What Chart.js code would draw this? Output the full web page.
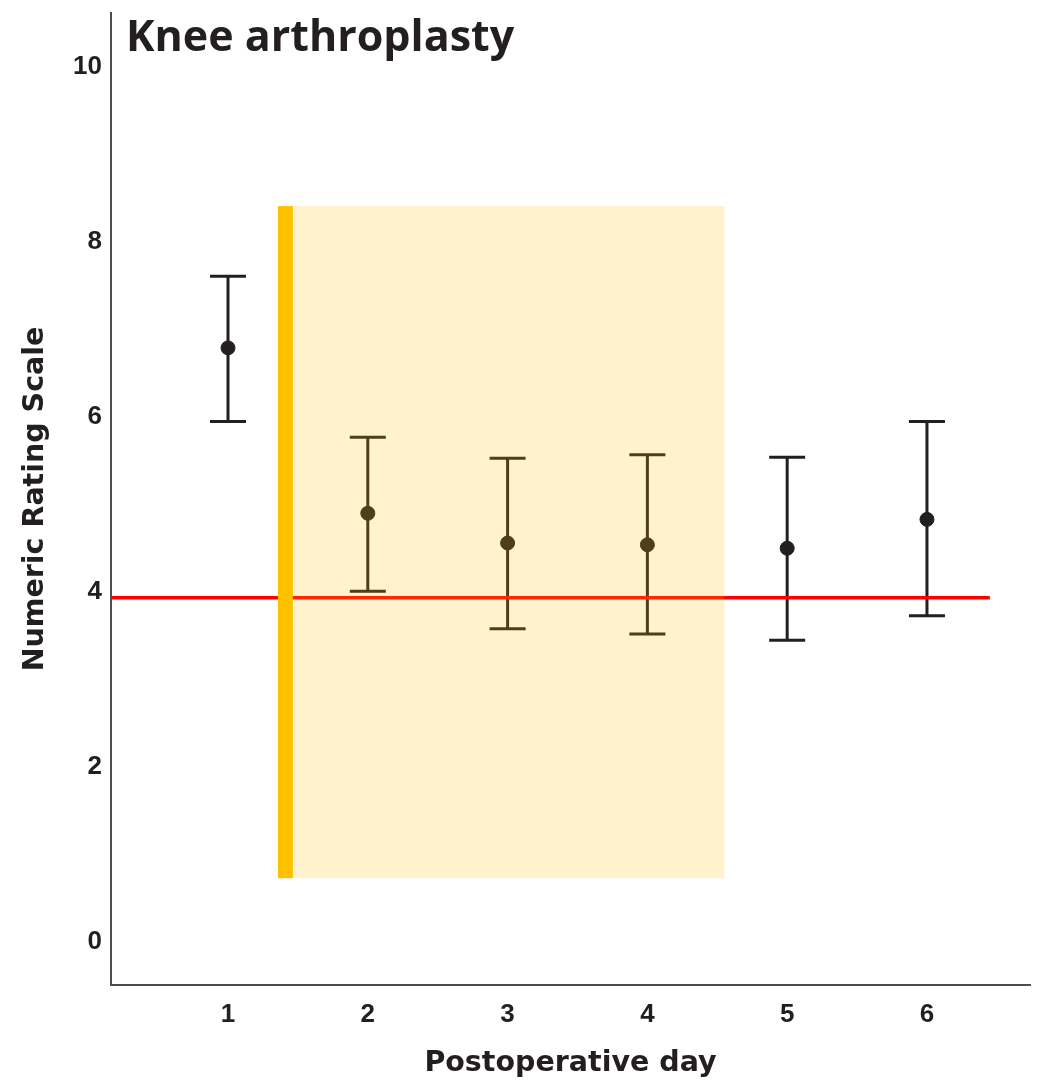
<!DOCTYPE html>
<html>
<head>
<meta charset="utf-8">
<script src="https://cdn.jsdelivr.net/npm/chart.js@4.4.1/dist/chart.umd.min.js"></script>
<style>
  html, body { margin: 0; padding: 0; background: #fff; }
  #wrap { width: 1038px; height: 1081px; }
</style>
</head>
<body>
<div id="wrap"><canvas id="myChart"></canvas></div>
<script>
// data
const days = [1, 2, 3, 4, 5, 6]
const means = [6.79, 4.90, 4.56, 4.54, 4.50, 4.83]
const lower = [5.95, 4.01, 3.58, 3.52, 3.45, 3.73]
const upper = [7.61, 5.77, 5.53, 5.57, 5.54, 5.95]
const yTicks = [0, 2, 4, 6, 8, 10]
const refValue = 3.935          // red horizontal line
const refFrom = 0.163
const refTo = 6.45
const shadeX = [1.464, 4.55]    // pale band
const stripX = [1.357, 1.464]   // solid orange strip
const shadeY = [0.73, 8.41]

const ink = "#231F20"

// error bars under the points, the band on top of everything
const extras = {
  id: "extras",
  beforeDatasetsDraw(chart) {
    const {ctx, scales: {x, y}} = chart
    ctx.save()
    ctx.strokeStyle = ink
    ctx.lineWidth = 3
    for (let i = 0; i < days.length; i++) {
      const px = x.getPixelForValue(days[i])
      const top = y.getPixelForValue(upper[i])
      const bot = y.getPixelForValue(lower[i])
      ctx.beginPath()
      ctx.moveTo(px, top); ctx.lineTo(px, bot)
      ctx.moveTo(px - 18, top); ctx.lineTo(px + 18, top)
      ctx.moveTo(px - 18, bot); ctx.lineTo(px + 18, bot)
      ctx.stroke()
    }
    ctx.restore()
  },
  afterDatasetsDraw(chart) {
    const {ctx, scales: {x, y}} = chart
    const t = y.getPixelForValue(shadeY[1])
    const b = y.getPixelForValue(shadeY[0])
    ctx.save()
    ctx.fillStyle = "rgba(255,192,0,0.2)"
    const l = x.getPixelForValue(shadeX[0]), r = x.getPixelForValue(shadeX[1])
    ctx.fillRect(l, t, r - l, b - t)
    ctx.fillStyle = "#FFC000"
    const sl = x.getPixelForValue(stripX[0]), sr = x.getPixelForValue(stripX[1])
    ctx.fillRect(sl, t, sr - sl, b - t)
    // panel title
    ctx.fillStyle = ink
    ctx.font = "bold 43px 'Open Sans'"
    ctx.textBaseline = "alphabetic"
    ctx.textAlign = "left"
    ctx.fillText("Knee arthroplasty", chart.chartArea.left + 15, 51)
    ctx.restore()
  }
}

const chart = new Chart("myChart", {
  type: "scatter",
  data: {
    datasets: [{
        type: "line",
        data: [{x: refFrom, y: refValue}, {x: refTo, y: refValue}],
        borderColor: "#FF0000",
        borderWidth: 3.5,
        pointRadius: 0,
        order: 2
      }, {
        data: days.map((d, i) => ({x: d, y: means[i]})),
        backgroundColor: ink,
        borderColor: ink,
        pointRadius: 7,
        order: 1
      }
    ]
  },
  options: {
    responsive: true,
    maintainAspectRatio: false,
    animation: false,
    layout: { padding: { top: 13, right: 2, left: 0, bottom: 0 } },
    plugins: {
      legend: { display: false },
      tooltip: { enabled: false }
    },
    scales: {
      x: {
        type: "linear",
        min: 0.163,
        max: 6.737,
        afterBuildTicks: s => { s.ticks = days.map(v => ({value: v})) },
        afterFit: s => { s.height = 96; s.paddingLeft = 0; s.paddingRight = 0 },
        grid: { display: false, drawTicks: false },
        border: { display: true, color: "#4d4d4d", width: 2 },
        ticks: {
          padding: 14,
          color: ink,
          font: { family: "'Liberation Sans'", size: 26, weight: "bold" }
        },
        title: {
          display: true,
          text: "Postoperative day",
          color: ink,
          padding: { top: 6, bottom: 0 },
          font: { family: "'DejaVu Sans'", size: 28.5, weight: "bold" }
        }
      },
      y: {
        min: -0.491,
        max: 10.617,
        afterBuildTicks: s => { s.ticks = yTicks.map(v => ({value: v})) },
        afterFit: s => { s.width = 111; s.paddingTop = 0; s.paddingBottom = 0 },
        grid: { display: false, drawTicks: false },
        border: { display: true, color: "#4d4d4d", width: 2 },
        ticks: {
          padding: 9,
          color: ink,
          font: { family: "'Liberation Sans'", size: 26, weight: "bold" }
        },
        title: {
          display: true,
          text: "Numeric Rating Scale",
          color: ink,
          padding: { top: 18, bottom: 0 },
          font: { family: "'DejaVu Sans'", size: 28.5, weight: "bold" }
        }
      }
    }
  },
  plugins: [extras]
})
</script>
</body>
</html>
